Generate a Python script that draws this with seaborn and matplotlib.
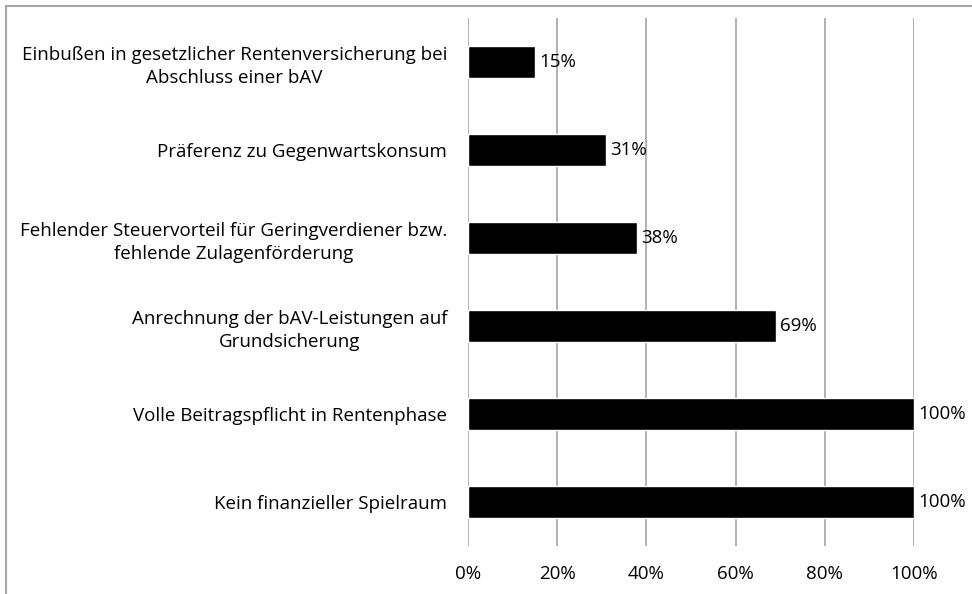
import matplotlib.pyplot as plt
import seaborn as sns
import pandas as pd
from matplotlib.patches import Rectangle
from matplotlib.ticker import FuncFormatter

sns.set_style("white")
plt.rcParams['font.family'] = ['Open Sans', 'DejaVu Sans']
plt.rcParams['text.color'] = 'black'
plt.rcParams['xtick.color'] = 'black'
plt.rcParams['ytick.color'] = 'black'

# Data
categories = [
    "Einbußen in gesetzlicher Rentenversicherung bei\nAbschluss einer bAV",
    "Präferenz zu Gegenwartskonsum",
    "Fehlender Steuervorteil für Geringverdiener bzw.\nfehlende Zulagenförderung",
    "Anrechnung der bAV-Leistungen auf\nGrundsicherung",
    "Volle Beitragspflicht in Rentenphase",
    "Kein finanzieller Spielraum",
]
shares = [15, 31, 38, 69, 100, 100]
x_ticks = [0, 20, 40, 60, 80, 100]

df = pd.DataFrame({"Grund": categories, "Anteil": shares})
fs = 13.5

# Set up the plot
fig = plt.figure(figsize=(9.72, 5.94), dpi=100)
ax = fig.add_axes([0.4815, 0.0808, 0.4588, 0.8889])
sns.barplot(data=df, x="Anteil", y="Grund", color="black", width=0.36,
            saturation=1, ax=ax, zorder=3)

ax.set_xlim(0, 100)
ax.set_ylim(len(categories) - 0.5, -0.5)
ax.set_xticks(x_ticks)
ax.xaxis.set_major_formatter(FuncFormatter(lambda v, p: f"{v:.0f}%"))
ax.set_xlabel("")
ax.set_ylabel("")
ax.tick_params(axis="x", length=0, pad=14, labelsize=fs)
ax.tick_params(axis="y", length=0, pad=15, labelsize=fs)
for lbl in ax.get_yticklabels():
    lbl.set_horizontalalignment("right")
    lbl.set_multialignment("center")
    lbl.set_linespacing(1.35)

# Grid lines
ax.grid(axis="x", color="#b0b0b0", linewidth=1.4, zorder=0)
ax.grid(axis="y", visible=False)
sns.despine(ax=ax, left=True, bottom=True)

# Value labels
for container in ax.containers:
    ax.bar_label(container, labels=[f"{v}%" for v in shares], padding=3,
                 fontsize=fs)

# Outer frame
fig.patches.append(Rectangle((6 / 972, -0.1), 1.2, 1.1 - 6 / 594,
                             transform=fig.transFigure, fill=False,
                             edgecolor="#a6a6a6", linewidth=1.5))

fig.savefig("out.png", dpi=100)
